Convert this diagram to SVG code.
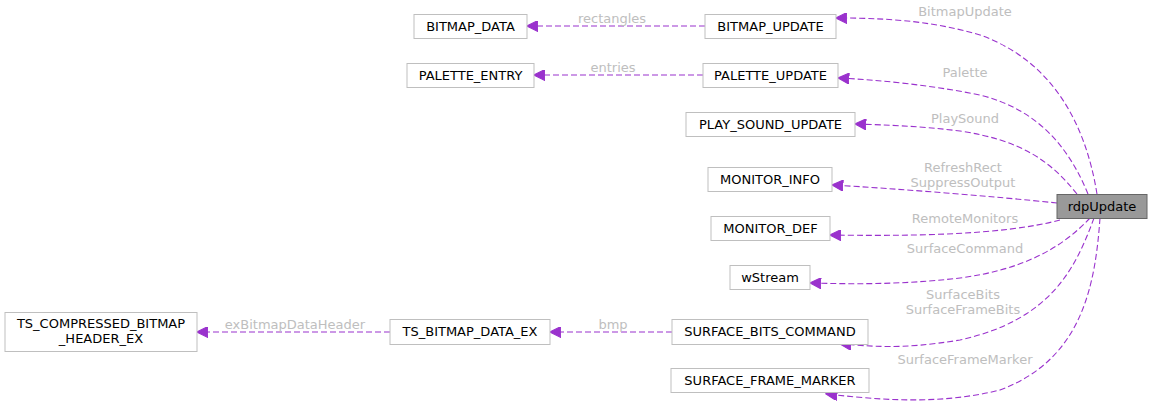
<svg xmlns="http://www.w3.org/2000/svg" width="1153" height="407" viewBox="0 0 1153 407">
<style>
.n rect{fill:#fff;stroke:#bfbfbf;stroke-width:1}
.n text{font-family:"DejaVu Sans",sans-serif;font-size:13px;fill:#000;text-anchor:middle}
.e path{fill:none;stroke:#9a32cd;stroke-width:1.1;stroke-dasharray:6,3}
.l{font-family:"DejaVu Sans",sans-serif;font-size:13px;fill:#bebebe;text-anchor:middle}
</style>
<defs>
<marker id="ah" viewBox="0 0 10 10" refX="9" refY="5" markerWidth="12" markerHeight="11" markerUnits="userSpaceOnUse" orient="auto">
<path d="M0,0 L10,5 L0,10 z" fill="#9a32cd" stroke="#9a32cd" stroke-dasharray="none"/>
</marker>
</defs>
<rect width="1153" height="407" fill="#fff"/>
<g id="edges" class="e">
<path d="M1097,194 C1085,120 1050,60 980,35 C930,20 880,18 837,18" marker-end="url(#ah)"/>
<path d="M705,26 L528,26" marker-end="url(#ah)"/>
<path d="M703,75 L535,75" marker-end="url(#ah)"/>
<path d="M1088,194 C1070,150 1040,110 980,95 C930,85 880,80 839,78" marker-end="url(#ah)"/>
<path d="M1077,194 C1050,160 1020,140 960,131 C920,126 885,125 856,124" marker-end="url(#ah)"/>
<path d="M1057,203 C990,196 900,189 833,185" marker-end="url(#ah)"/>
<path d="M1060,220 C1000,236 900,236 831,235" marker-end="url(#ah)"/>
<path d="M1090,218 C1060,250 1020,270 960,278 C900,285 850,284 811,283" marker-end="url(#ah)"/>
<path d="M1094,218 C1075,270 1050,320 960,340 C900,350 870,346 841,344" marker-end="url(#ah)"/>
<path d="M1100,218 C1095,290 1080,360 1000,390 C940,405 880,400 827,394" marker-end="url(#ah)"/>
<path d="M672,332 L551,332" marker-end="url(#ah)"/>
<path d="M390,332 L198,332" marker-end="url(#ah)"/>
</g>
<g id="labels">
<text class="l" x="965" y="16">BitmapUpdate</text>
<text class="l" x="612" y="23">rectangles</text>
<text class="l" x="613" y="72">entries</text>
<text class="l" x="965" y="77">Palette</text>
<text class="l" x="965" y="123">PlaySound</text>
<text class="l" x="963" y="172">RefreshRect</text>
<text class="l" x="963" y="187">SuppressOutput</text>
<text class="l" x="965" y="223">RemoteMonitors</text>
<text class="l" x="965" y="253">SurfaceCommand</text>
<text class="l" x="963" y="299">SurfaceBits</text>
<text class="l" x="963" y="314">SurfaceFrameBits</text>
<text class="l" x="965" y="364">SurfaceFrameMarker</text>
<text class="l" x="613" y="329">bmp</text>
<text class="l" x="295" y="329">exBitmapDataHeader</text>
</g>
<g id="rdpUpdate" class="n"><rect x="1057" y="194.5" width="90" height="24" style="fill:#999;stroke:#666"/><text x="1102" y="211">rdpUpdate</text></g>
<g id="BITMAP_UPDATE" class="n"><rect x="705" y="14.5" width="131" height="24"/><text x="770.5" y="31">BITMAP_UPDATE</text></g>
<g id="BITMAP_DATA" class="n"><rect x="414" y="14.5" width="113" height="24"/><text x="470.5" y="31">BITMAP_DATA</text></g>
<g id="PALETTE_ENTRY" class="n"><rect x="407" y="63.5" width="127" height="24"/><text x="470.5" y="80">PALETTE_ENTRY</text></g>
<g id="PALETTE_UPDATE" class="n"><rect x="703" y="63.5" width="135" height="24"/><text x="770.5" y="80">PALETTE_UPDATE</text></g>
<g id="PLAY_SOUND_UPDATE" class="n"><rect x="686" y="112.5" width="169" height="24"/><text x="770.5" y="129">PLAY_SOUND_UPDATE</text></g>
<g id="MONITOR_INFO" class="n"><rect x="708" y="167.5" width="124" height="24"/><text x="770" y="184">MONITOR_INFO</text></g>
<g id="MONITOR_DEF" class="n"><rect x="711" y="216.5" width="119" height="24"/><text x="770.5" y="233">MONITOR_DEF</text></g>
<g id="wStream" class="n"><rect x="730" y="265.5" width="80" height="24"/><text x="770" y="282">wStream</text></g>
<g id="TS_COMPRESSED_BITMAP_HEADER_EX" class="n"><rect x="5" y="312.5" width="192" height="39"/><text x="101" y="328">TS_COMPRESSED_BITMAP</text><text x="101" y="343">_HEADER_EX</text></g>
<g id="TS_BITMAP_DATA_EX" class="n"><rect x="390" y="319.5" width="160" height="25"/><text x="470" y="336">TS_BITMAP_DATA_EX</text></g>
<g id="SURFACE_BITS_COMMAND" class="n"><rect x="672" y="319.5" width="196" height="25"/><text x="770" y="336">SURFACE_BITS_COMMAND</text></g>
<g id="SURFACE_FRAME_MARKER" class="n"><rect x="671" y="368.5" width="198" height="24"/><text x="770" y="385">SURFACE_FRAME_MARKER</text></g>
</svg>
